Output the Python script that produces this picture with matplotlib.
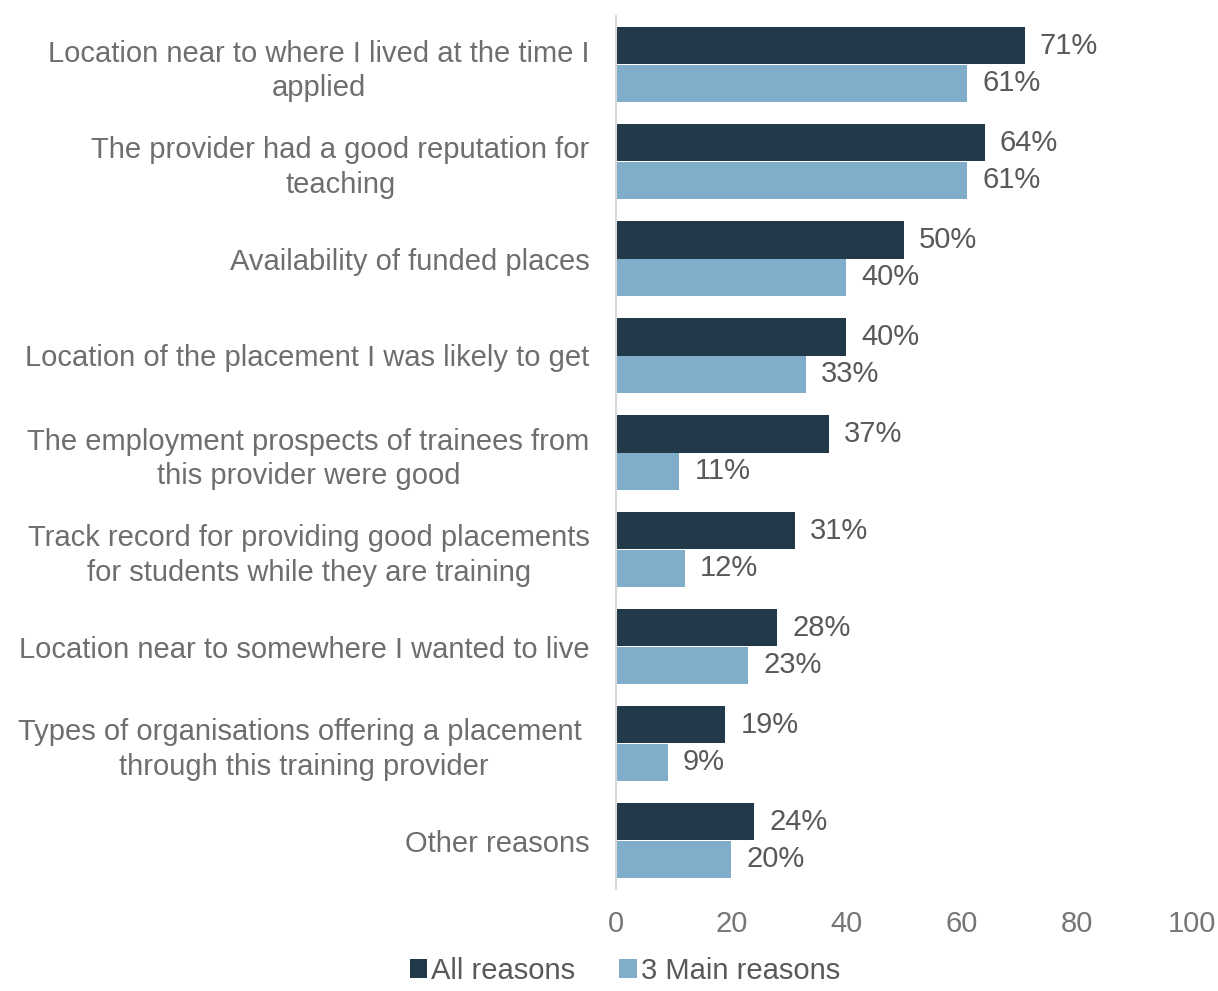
import matplotlib.pyplot as plt
import numpy as np

plt.rcParams['font.family'] = ['Liberation Sans', 'DejaVu Sans']

categories = [
    "Location near to where I lived at the time I\napplied",
    "The provider had a good reputation for\nteaching",
    "Availability of funded places",
    "Location of the placement I was likely to get",
    "The employment prospects of trainees from\nthis provider were good",
    "Track record for providing good placements\nfor students while they are training",
    "Location near to somewhere I wanted to live",
    "Types of organisations offering a placement \nthrough this training provider",
    "Other reasons",
]
all_reasons = [71, 64, 50, 40, 37, 31, 28, 19, 24]
main_reasons = [61, 61, 40, 33, 11, 12, 23, 9, 20]
series_names = ["All reasons", "3 Main reasons"]
x_ticks = [0, 20, 40, 60, 80, 100]

dark = '#22394a'
light = '#80adc9'
fs = 21

fig = plt.figure(figsize=(12.18, 9.91), dpi=100)
ax = fig.add_axes([616 / 1218, 1 - 889 / 991, 576 / 1218, 873 / 991])

y = np.arange(len(categories))
h = 0.39
b1 = ax.barh(y - h / 2, all_reasons, height=h, color=dark, label=series_names[0])
b2 = ax.barh(y + h / 2, main_reasons, height=h, color=light, label=series_names[1])

for bars, vals in ((b1, all_reasons), (b2, main_reasons)):
    for bar, v in zip(bars, vals):
        ax.annotate(f"{v}%", (v, bar.get_y() + bar.get_height() / 2),
                    xytext=(15, 0), textcoords='offset pixels',
                    ha='left', va='center', fontsize=fs, color='#595959')

ax.set_xlim(0, 100)
ax.set_ylim(len(categories) - 0.5, -0.5)
ax.set_xticks(x_ticks)
ax.set_xticklabels([str(t) for t in x_ticks])
ax.set_yticks(y)
ax.set_yticklabels(categories, ha='right', multialignment='center',
                   linespacing=1.3)
ax.tick_params(axis='x', length=0, pad=15, labelsize=fs, labelcolor='#767676')
ax.tick_params(axis='y', length=0, pad=19, labelsize=fs, labelcolor='#6e6e6e')

for s in ('top', 'right', 'bottom'):
    ax.spines[s].set_visible(False)
ax.spines['left'].set_color('#d9d9d9')
ax.spines['left'].set_linewidth(1.5)

fig.legend(loc='lower center', bbox_to_anchor=(625 / 1218, -0.02), ncol=2,
           frameon=False, fontsize=fs, handlelength=0.6, handleheight=0.6,
           handletextpad=0.15, columnspacing=1.5, labelcolor='#595959')

fig.savefig('out.png', dpi=100)
